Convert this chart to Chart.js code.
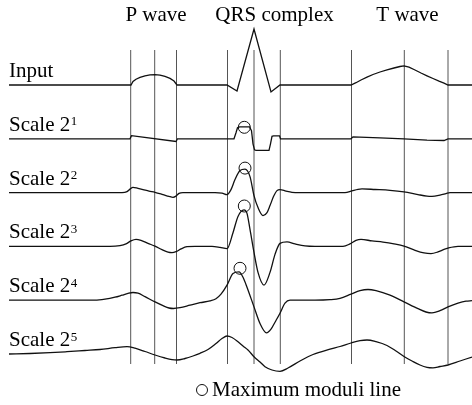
<!DOCTYPE html>
<html>
<head>
<meta charset="utf-8">
<script src="https://cdn.jsdelivr.net/npm/chart.js@4.4.1/dist/chart.umd.min.js"></script>
<style>
  html, body { margin: 0; padding: 0; background: #fff; }
  #wrap { width: 472px; height: 405px; }
</style>
</head>
<body>
<div id="wrap"><canvas id="c" width="472" height="405"></canvas></div>
<script>
// ---- data (time axis in arbitrary sample units, amplitude in arbitrary units) ----
const rowNames = ['Input', 'Scale 2', 'Scale 2', 'Scale 2', 'Scale 2', 'Scale 2'];
const rowExponents = ['', '1', '2', '3', '4', '5'];
const waveNames = ['P wave', 'QRS complex', 'T wave'];
const waveLabelTimes = [156, 274.5, 407.5];
const boundaries = [130.7, 154.7, 176.5, 227.5, 254, 280.3, 351.5, 404.3, 448];
const legendText = 'Maximum moduli line';

const input = [[9,0],[131,0],[133,3.5],[136,5.8],[140,7.6],[145,9.2],[150,10.1],[155,10.3],[160,9.8],[165,8.6],[170,6.6],[174,4],[177,0],
  [227,0],[237,-6],[254,56],[271,-7],[280,0],[351,0],[356,2.3],[361,5],[367,7.8],[373,10.5],[380,13],[387,15.2],[394,17],[400,18.5],
  [404,19.2],[409,17.8],[415,15],[421,12],[427,9.2],[433,6.5],[439,3.8],[444,1.8],[448,0],[472,0]];
const scale1 = [[9,0],[130,0],[131.5,3.2],[176,-2.7],[177.5,0],[227,0],[234,0],[236,6],[237.5,11],[239.5,12],[249.5,12],[251.5,8],
  [253,-5],[254.5,-11],[256,-11.5],[269,-11.5],[270.5,-5],[272,2.5],[273.5,3],[279.5,3],[280.5,0],[351,0],[353,2],[380,1],[404,0],
  [427,-1.3],[444,-1.7],[448,0],[472,0]];
const scale2 = [[9,0],[122,0],[127,1],[130,3.5],[133,5.3],[138,4.2],[143,3],[149,1.5],[155,0.3],[163,-2],[169,-3.8],[173,-4.7],
  [176,-3.5],[179,-0.8],[183,0],[215,0],[222,-0.5],[227,-2],[231,3],[235,13],[240,22],[245,23.5],[250,16],[254,-3],[258,-15],
  [263,-23],[267,-20],[270,-13],[273.5,-4],[277,2],[280,3],[286,1.5],[292,0.3],[300,0],[345,0],[352,1.8],[358,3.3],[362,3.7],
  [375,3.1],[390,2.3],[404,0.7],[418,-2],[427,-3.5],[432,-3.7],[440,-2.5],[446,-1],[450,0],[472,0]];
const scale3 = [[9,0],[110,0],[120,0.8],[126,2.5],[131,5.5],[136,7],[141,6],[148,3],[155,0.3],[162,-3.3],[168,-5.8],[172,-6.3],
  [176,-5.3],[181,-2.5],[187,-0.3],[195,0],[212,0],[220,-1],[227,-2.3],[233,13.7],[238,30],[244,36.5],[247,33],[250,17],[254,-6],
  [258,-26],[264,-38.7],[270,-26],[275,-8],[280,3],[287,4.5],[295,2.5],[305,0.5],[315,0],[343,0],[350,2.5],[356,6],[361,7],
  [372,5.5],[383,4.3],[394,2.5],[404,0.3],[414,-3.5],[424,-6.5],[431,-7.2],[438,-5.5],[444,-3],[448,-1.7],[458,0],[472,0]];
const scale4 = [[9,0],[80,0],[95,0],[105,1],[115,3],[122,5],[128,6.8],[133,7.7],[138,7],[145,3.5],[155,-1.7],[163,-5.5],[169,-7.8],
  [173.5,-8.3],[180,-7.5],[190,-5],[200,-2.5],[210,-0.7],[216,1.5],[221,6],[227,15],[233,26.7],[239,28.3],[243,23],[247,13],
  [254,-6.7],[260,-23.3],[266.5,-32.7],[271,-29],[275,-22],[280,-13],[285,-3],[290,0],[300,0],[315,0],[330,0.5],[340,1.8],[351,6],
  [360,9.5],[368,10.7],[376,9.5],[390,5],[404,-1.7],[418,-8.5],[426,-11.8],[432,-12.7],[440,-10.5],[448,-6.7],[458,-3],[466,-1],[472,-0.5]];
const scale5 = [[9,0],[30,0.5],[50,1.3],[67,2.3],[85,3.5],[100,4.5],[115,6.3],[127,7.3],[135,5.8],[145,2.5],[155,-1],[165,-4],
  [172,-5.6],[177,-6],[185,-4.5],[193,-2],[200,0.7],[208,4.5],[216,10.5],[222,15.5],[227,18],[232,16.5],[238,12.3],[243,8],[248,4],
  [254,-2.7],[260,-8],[265,-12.7],[272,-16],[280,-17.3],[288,-14],[300,-7],[313,-0.5],[330,4.8],[340,7.5],[351,11],[360,13.3],
  [367,14],[376,12.3],[387,8.5],[396,3],[404,-2.5],[412,-7],[420,-11],[427,-13.3],[433,-13.8],[440,-12.5],[448,-11],[460,-7],[472,-3]];
// maximum moduli markers: [row, time, amplitude]
const maxima = [[1,244.3,11.5],[2,245,24.5],[3,244.3,40.4],[4,240,31.9]];

// ---- layout / style ----
const ROW_STEP = 53.8;
const FONT = '"Liberation Serif", "Times New Roman", serif';
const series = [input, scale1, scale2, scale3, scale4, scale5];
const smooth = [false, false, true, true, true, true];
const off = k => -k * ROW_STEP;

const datasets = series.map((s, k) => ({
  data: s.map(([t, a]) => ({x: t, y: a + off(k)})),
  borderColor: '#111',
  borderWidth: 1.3,
  pointRadius: 0,
  fill: false,
  tension: 0,
  cubicInterpolationMode: smooth[k] ? 'monotone' : 'default',
  clip: false
}));
datasets.push({
  data: maxima.map(([k, t, a]) => ({x: t, y: a + off(k)})),
  showLine: false,
  pointStyle: 'circle',
  pointRadius: 6,
  pointBorderColor: '#111',
  pointBackgroundColor: 'rgba(0,0,0,0)',
  pointBorderWidth: 1,
  clip: false
});

const annot = {
  id: 'annot',
  beforeDatasetsDraw(chart) {
    const {ctx, chartArea, scales: {x}} = chart;
    ctx.save();
    ctx.strokeStyle = '#555';
    ctx.lineWidth = 1;
    boundaries.forEach(b => {
      const px = x.getPixelForValue(b);
      ctx.beginPath();
      ctx.moveTo(px, chartArea.top);
      ctx.lineTo(px, chartArea.bottom);
      ctx.stroke();
    });
    ctx.restore();
  },
  afterDraw(chart) {
    const {ctx, chartArea, scales: {x, y}} = chart;
    ctx.save();
    ctx.fillStyle = '#000';
    ctx.textBaseline = 'alphabetic';
    // wave names
    ctx.font = '21px ' + FONT;
    ctx.textAlign = 'center';
    waveNames.forEach((n, i) => ctx.fillText(n, x.getPixelForValue(waveLabelTimes[i]), chartArea.top - 29));
    // row labels
    ctx.textAlign = 'left';
    rowNames.forEach((n, k) => {
      const base = y.getPixelForValue(off(k)) - 8;
      ctx.font = '21px ' + FONT;
      ctx.fillText(n, chartArea.left, base);
      if (rowExponents[k]) {
        const w = ctx.measureText(n).width;
        ctx.font = '13px ' + FONT;
        ctx.fillText(rowExponents[k], chartArea.left + w + 0.5, base - 5.5);
      }
    });
    // legend
    const lx = 202, ly = chartArea.bottom + 26;
    ctx.strokeStyle = '#111';
    ctx.lineWidth = 1;
    ctx.beginPath();
    ctx.arc(lx, ly, 5.5, 0, Math.PI * 2);
    ctx.stroke();
    ctx.font = '21px ' + FONT;
    ctx.fillText(legendText, lx + 10, chartArea.bottom + 32);
    ctx.restore();
  }
};

new Chart(document.getElementById('c'), {
  type: 'line',
  data: { datasets },
  options: {
    responsive: false,
    animation: false,
    events: [],
    layout: { autoPadding: false, padding: { left: 9, right: 0, top: 50, bottom: 41 } },
    scales: {
      x: { type: 'linear', min: 9, max: 472, display: false },
      y: { type: 'linear', min: -279, max: 35, display: false }
    },
    plugins: { legend: { display: false }, tooltip: { enabled: false } }
  },
  plugins: [annot]
});
</script>
</body>
</html>
